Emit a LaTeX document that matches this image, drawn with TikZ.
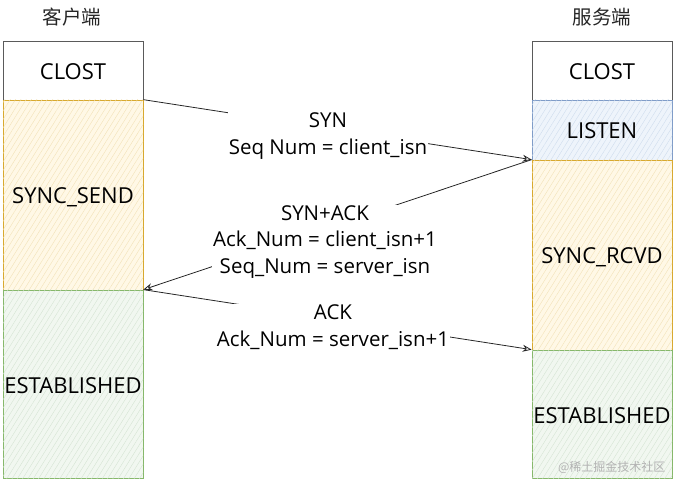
\documentclass[tikz,border=0pt]{standalone}
\usepackage{fontspec}
\setmainfont{Open Sans}
\newfontfamily\cjk{Noto Sans CJK SC}
\usetikzlibrary{arrows.meta,patterns.meta}
\definecolor{graybd}{HTML}{5A5A5A}
\definecolor{yelbd}{HTML}{D8A92E}
\definecolor{yelfill}{HTML}{FFF8E6}
\definecolor{yelhatch}{HTML}{F1E0B4}
\definecolor{bluebd}{HTML}{7F9CC8}
\definecolor{bluefill}{HTML}{EEF4FB}
\definecolor{bluehatch}{HTML}{CCDBEC}
\definecolor{grnbd}{HTML}{86B86A}
\definecolor{grnfill}{HTML}{F1F7F0}
\definecolor{grnhatch}{HTML}{D3E3D1}
\tikzset{
  statebox/.style={draw, line width=0.7pt, minimum width=140pt, inner sep=0pt,
    text height=21pt, text depth=3pt,
    font=\fontsize{22}{26}\selectfont, text=black},
  closebox/.style={statebox, draw=graybd, fill=white},
  yelbox/.style={statebox, draw=yelbd, fill=yelfill,
    postaction={pattern={Lines[angle=58,distance=4.5pt,line width=0.35pt]}, pattern color=yelhatch}},
  bluebox/.style={statebox, draw=bluebd, fill=bluefill,
    postaction={pattern={Lines[angle=58,distance=4.5pt,line width=0.35pt]}, pattern color=bluehatch}},
  grnbox/.style={statebox, draw=grnbd, fill=grnfill,
    postaction={pattern={Lines[angle=58,distance=4.5pt,line width=0.35pt]}, pattern color=grnhatch}},
  msg/.style={line width=0.8pt, draw=black!85, -{Stealth[open,length=9pt,width=7pt]}},
  lbl/.style={fill=white, inner sep=1pt, align=center, font=\fontsize{20.5}{26.5}\selectfont, text=black},
  title/.style={font=\cjk\fontsize{19.5}{21}\selectfont, text=black!85},
}
\begin{document}
\begin{tikzpicture}[x=1pt,y=-1pt]
\useasboundingbox (0,0) rectangle (675,481);
% titles
\node[title] (tl) at (72,17) {客户端};
\node[title] (tr) at (602,17) {服务端};
% client column
\node[closebox, minimum height=59pt] (cclost) at (73,70.5) {CLOST};
\node[yelbox, minimum height=190pt] (csend) at (73,195) {SYNC\_SEND};
\node[grnbox, minimum height=188pt] (cest) at (73,384) {ESTABLISHED};
% server column
\node[closebox, minimum height=59pt] (sclost) at (602,70.5) {CLOST};
\node[bluebox, minimum height=60pt] (slisten) at (602,130) {LISTEN};
\node[yelbox, minimum height=190pt] (srcvd) at (602,255) {SYNC\_RCVD};
\node[grnbox, minimum height=128pt] (sest) at (602,414) {ESTABLISHED};
% messages
\draw[msg] (csend.north east) -- (srcvd.north west);
\draw[msg] (srcvd.north west) -- (cest.north east);
\draw[msg] (cest.north east) -- (sest.north west);
% labels
\node[lbl] (lsyn) at (328,136) {SYN\\Seq Num = client\_isn};
\node[lbl] (lsynack) at (325,242) {SYN+ACK\\Ack\_Num = client\_isn+1\\Seq\_Num = server\_isn};
\node[lbl] (lack) at (333,327) {ACK\\Ack\_Num = server\_isn+1};
% watermark
\node[font=\cjk\fontsize{12}{14}\selectfont, text=black!30, anchor=east] (wm) at (669,467) {@稀土掘金技术社区};
\end{tikzpicture}
\end{document}
